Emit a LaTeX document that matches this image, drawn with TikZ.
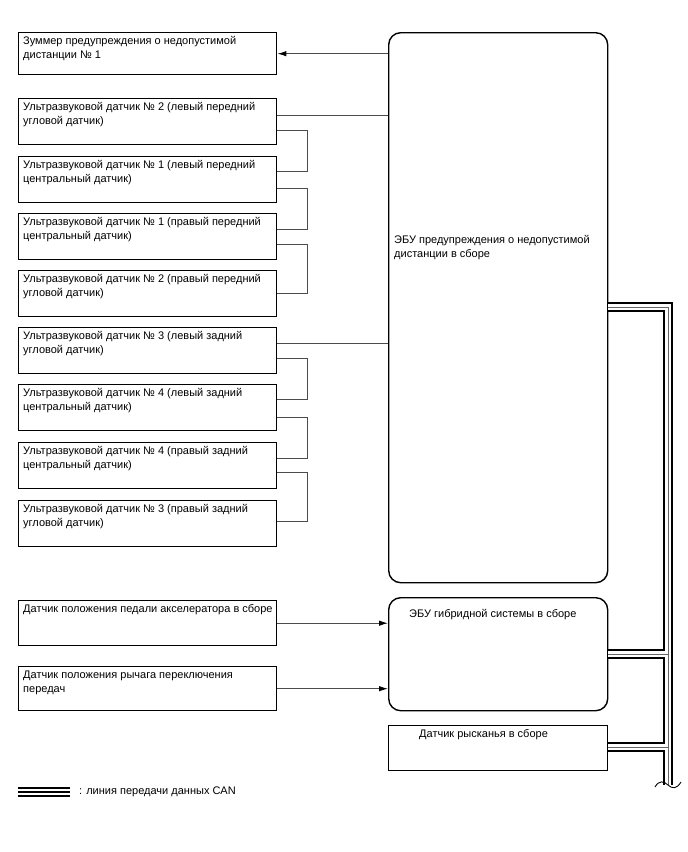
\documentclass[tikz,border=0pt]{standalone}
\usepackage{fontspec}
\setmainfont{Liberation Sans}
\usetikzlibrary{calc,arrows.meta}
\tikzset{
  box/.style={draw=black, line width=1.4pt, fill=white, inner sep=0pt, anchor=north west},
  ecubox/.style={box, rounded corners=12pt},
  txt/.style={anchor=north west, inner sep=0pt, align=left, font=\fontsize{11}{14}\selectfont},
  conn/.style={draw=black!70, line width=1pt},
  arr/.style={conn, -{Latex[length=9pt,width=5.5pt,color=black]}},
  busA/.style={draw=black, line width=10pt, line join=miter},
  busB/.style={draw=white, line width=6.6pt, line join=miter},
  busC/.style={draw=black!60, line width=0.9pt, line join=miter},
}
\begin{document}
\begin{tikzpicture}[x=1pt,y=-1pt]
\useasboundingbox (0,0) rectangle (688,852);
% left boxes
\node[box, minimum width=258pt, minimum height=42pt] (bz) at (18,32) {};
\node[txt] (tbz) at ([shift={(5pt,-4.5pt)}]bz.north west) {Зуммер предупреждения о недопустимой\\дистанции № 1};
\foreach \n/\t/\l in {1/98/{Ультразвуковой датчик № 2 (левый передний\\угловой датчик)},
                     2/156/{Ультразвуковой датчик № 1 (левый передний\\центральный датчик)},
                     3/213/{Ультразвуковой датчик № 1 (правый передний\\центральный датчик)},
                     4/270/{Ультразвуковой датчик № 2 (правый передний\\угловой датчик)},
                     5/327/{Ультразвуковой датчик № 3 (левый задний\\угловой датчик)},
                     6/384/{Ультразвуковой датчик № 4 (левый задний\\центральный датчик)},
                     7/442/{Ультразвуковой датчик № 4 (правый задний\\центральный датчик)},
                     8/500/{Ультразвуковой датчик № 3 (правый задний\\угловой датчик)}}{
  \node[box, minimum width=258pt, minimum height=46pt] (s\n) at (18,\t) {};
  \node[txt] (ts\n) at ([shift={(5pt,-4.5pt)}]s\n.north west) {\l};
}
\node[box, minimum width=258pt, minimum height=45pt] (acc) at (18,600) {};
\node[txt] (tacc) at ([shift={(5pt,-4.5pt)}]acc.north west) {Датчик положения педали акселератора в сборе};
\node[box, minimum width=258pt, minimum height=44pt] (gear) at (18,666) {};
\node[txt] (tgear) at ([shift={(5pt,-4.5pt)}]gear.north west) {Датчик положения рычага переключения\\передач};
% right boxes
\node[ecubox, minimum width=219pt, minimum height=550pt] (ecu) at (388,32) {};
\node[txt] (tecu) at (394,235) {ЭБУ предупреждения о недопустимой\\дистанции в сборе};
\node[ecubox, minimum width=219pt, minimum height=113pt] (hyb) at (388,597) {};
\node[txt] (thyb) at (409,609) {ЭБУ гибридной системы в сборе};
\node[box, minimum width=219pt, minimum height=45pt] (yaw) at (388,725) {};
\node[txt] (tyaw) at (419,729) {Датчик рысканья в сборе};
% connectors
\draw[arr] (ecu.west |- bz.east) -- (bz.east);
\draw[conn] ($(s1.east)+(0,-6)$) -- ($(ecu.west |- s1.east)+(0,-6)$);
\draw[conn] ($(s5.east)+(0,-7)$) -- ($(ecu.west |- s5.east)+(0,-7)$);
\draw[conn] ($(s1.east)+(0,9)$) -- ++(30,0) |- ($(s2.east)+(0,-8)$);
\draw[conn] ($(s2.east)+(0,9)$) -- ++(30,0) |- ($(s3.east)+(0,-7)$);
\draw[conn] ($(s3.east)+(0,8)$) -- ++(30,0) |- ($(s4.east)+(0,0)$);
\draw[conn] ($(s5.east)+(0,8)$) -- ++(30,0) |- ($(s6.east)+(0,-8)$);
\draw[conn] ($(s6.east)+(0,10)$) -- ++(30,0) |- ($(s7.east)+(0,-7)$);
\draw[conn] ($(s7.east)+(0,7)$) -- ++(30,0) |- ($(s8.east)+(0,-2)$);
\draw[arr] (acc.east) -- (hyb.west |- acc.east);
\draw[arr] (gear.east) -- (hyb.west |- gear.east);
% CAN bus
\coordinate (bt) at (668,307);
\coordinate (bb) at (668,785);
\coordinate (bh) at (668,654);
\coordinate (by) at (668,747);
\foreach \s in {busA,busB,busC}{
  \draw[\s] (ecu.east |- bt) -- (bt) -- (bb);
  \draw[\s] (hyb.east |- bh) -- (bh);
  \draw[\s] (yaw.east |- by) -- (by);
}
\draw[black, line width=0.9pt] (655,787) .. controls (659,780) and (664,781) .. (668,785) .. controls (672,789) and (677,789) .. (681,782);
% legend
\coordinate (la) at (18,792);
\coordinate (lb) at (70,792);
\draw[black, line width=10pt] (la) -- (lb);
\draw[white, line width=6.6pt] (la) -- (lb);
\draw[black, line width=1.2pt] (la) -- (lb);
\node[txt, anchor=west] (tleg) at (79,792) {: линия передачи данных CAN};
\end{tikzpicture}
\end{document}
